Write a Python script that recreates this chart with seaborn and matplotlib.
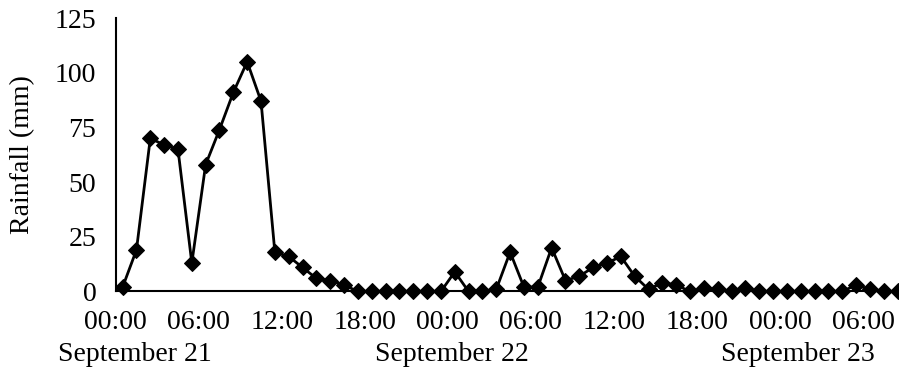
import matplotlib
matplotlib.use("Agg")
import matplotlib.pyplot as plt
import matplotlib.transforms as mtransforms
import seaborn as sns
import pandas as pd

# Hourly rainfall from 00:00 September 21 to 08:00 September 23
rainfall = [2, 19, 70, 67, 65, 13, 58, 74, 91, 105, 87, 18, 16, 11, 6, 5, 3, 0,
            0, 0, 0, 0, 0, 0, 9, 0, 0, 1, 18, 2, 2, 20, 5, 7, 11, 13, 16, 7,
            1, 4, 3, 0, 1.5, 1, 0, 1.5, 0, 0, 0, 0, 0, 0, 0, 3, 1, 0, 0]
hours = list(range(len(rainfall)))

tick_labels = ["00:00", "06:00", "12:00", "18:00", "00:00", "06:00",
               "12:00", "18:00", "00:00", "06:00"]
tick_positions = [-0.5 + 6 * k for k in range(len(tick_labels))]

date_labels = ["September 21", "September 22", "September 23"]
date_positions = [0.9, 23.8, 48.8]

y_ticks = [0, 25, 50, 75, 100, 125]

df = pd.DataFrame({"hour": hours, "rainfall": rainfall})

sns.set_theme(style="white")
plt.rcParams["font.family"] = ["Liberation Serif", "DejaVu Serif"]

fig = plt.figure(figsize=(8.99, 3.73), dpi=100)
ax = fig.add_axes([0.1287, 0.2185, 0.8713, 0.7332])

sns.lineplot(data=df, x="hour", y="rainfall", ax=ax, color="black",
             linewidth=2.0, marker="D", markersize=8.5, markeredgecolor="black",
             markerfacecolor="black", clip_on=False)

ax.set_xlim(-0.5, 56.1)
ax.set_ylim(0, 125)
ax.set_xticks(tick_positions)
ax.set_xticklabels(tick_labels)
ax.set_yticks(y_ticks)
ax.set_yticklabels([str(v) for v in y_ticks])
ax.tick_params(axis="both", direction="in", length=5, width=1.2,
               color="black", labelsize=20, labelcolor="black")
ax.tick_params(axis="x", pad=13)
ax.tick_params(axis="y", pad=14)
ax.set_xlabel("")
ax.set_ylabel("Rainfall (mm)", fontsize=20, color="black", labelpad=14)

for side in ["top", "right"]:
    ax.spines[side].set_visible(False)
for side in ["left", "bottom"]:
    ax.spines[side].set_color("black")
    ax.spines[side].set_linewidth(1.5)

trans = mtransforms.blended_transform_factory(ax.transData, ax.transAxes)
for label, pos in zip(date_labels, date_positions):
    ax.text(pos, -0.232, label, transform=trans, ha="center", va="center",
            fontsize=20, color="black")

fig.savefig("out.png", dpi=100)
